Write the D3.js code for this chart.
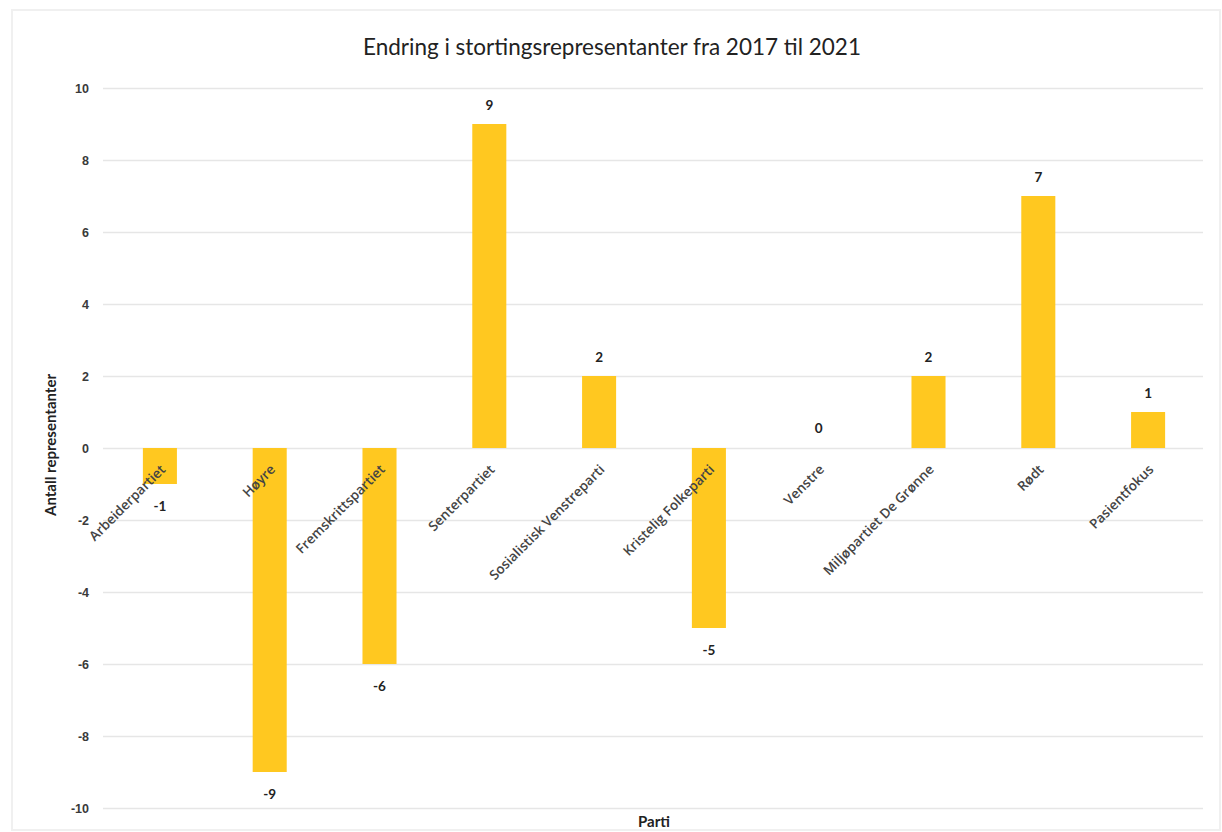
<!DOCTYPE html>
<html>
<head>
<meta charset="utf-8">
<script src="https://cdn.jsdelivr.net/npm/d3@7"></script>
<style>
  html, body { margin: 0; padding: 0; background: #fff; }
  svg { display: block; font-family: Lato, "Open Sans", "DejaVu Sans", sans-serif; }
</style>
</head>
<body>
<svg id="chart" width="1222" height="832"></svg>
<script>
const title = "Endring i stortingsrepresentanter fra 2017 til 2021";
const yTitle = "Antall representanter";
const xTitle = "Parti";
const categories = ["Arbeiderpartiet", "Høyre", "Fremskrittspartiet", "Senterpartiet",
  "Sosialistisk Venstreparti", "Kristelig Folkeparti", "Venstre",
  "Miljøpartiet De Grønne", "Rødt", "Pasientfokus"];
const values = [-1, -9, -6, 9, 2, -5, 0, 2, 7, 1];
const yTicks = [10, 8, 6, 4, 2, 0, -2, -4, -6, -8, -10];

const svg = d3.select("#chart");
const W = 1222, H = 832;
const plot = { left: 105, right: 1203, top: 88, bottom: 808 };

// faint chart border (scan)
svg.append("rect").attr("x", 12).attr("y", 10).attr("width", W - 14).attr("height", H - 12)
  .attr("fill", "none").attr("stroke", "#f0f0f0").attr("stroke-width", 2);

const x = d3.scaleBand().domain(categories).range([plot.left, plot.right])
  .paddingInner(0.69).paddingOuter(0.345);
const y = d3.scaleLinear().domain([-10, 10]).range([plot.bottom, plot.top]);

// gridlines + tick labels
const yAxis = d3.axisLeft(y).tickValues(yTicks).tickSize(-(plot.right - plot.left + 2)).tickPadding(14)
  .tickFormat(d3.format("d"));
const gy = svg.append("g").attr("transform", `translate(${plot.left - 2},0)`).call(yAxis);
gy.select(".domain").remove();
gy.selectAll(".tick line").attr("stroke", "#e6e6e6").attr("stroke-width", 1.3);
gy.selectAll(".tick text").attr("fill", "#3a3a3a").attr("font-size", 12.5).attr("font-weight", 700)
  .text(d => d < 0 ? "-" + Math.abs(d) : d);

// bars
svg.append("g").selectAll("rect").data(values).join("rect")
  .attr("x", (d, i) => x(categories[i]))
  .attr("width", x.bandwidth())
  .attr("y", d => y(Math.max(0, d)))
  .attr("height", d => Math.abs(y(d) - y(0)))
  .attr("fill", "#FFC820");

// value labels
svg.append("g").selectAll("text").data(values).join("text")
  .attr("x", (d, i) => x(categories[i]) + x.bandwidth() / 2)
  .attr("y", d => d > 0 ? y(d) - 19 : d < 0 ? y(d) + 22 : y(0) - 20)
  .attr("dy", "0.35em")
  .attr("text-anchor", "middle")
  .attr("font-size", 13.5).attr("font-weight", 700).attr("fill", "#222")
  .text(d => d < 0 ? "-" + Math.abs(d) : d);

// category labels
svg.append("g").selectAll("text").data(categories).join("text")
  .attr("transform", d => `translate(${x(d) + x.bandwidth() / 2 + 3},${y(0) + 19}) rotate(-45)`)
  .attr("dy", "0.35em")
  .attr("text-anchor", "end")
  .attr("font-family", "'Open Sans', sans-serif")
  .attr("font-size", 13.5).attr("font-weight", 600).attr("fill", "#444")
  .text(d => d);

// titles
svg.append("text").attr("x", 612).attr("y", 55).attr("text-anchor", "middle")
  .attr("font-size", 22.5).attr("fill", "#222").text(title);
svg.append("text").attr("transform", `translate(56,${(plot.top + plot.bottom) / 2 - 3}) rotate(-90)`)
  .attr("text-anchor", "middle").attr("font-size", 15).attr("font-weight", 700).attr("fill", "#222")
  .text(yTitle);
svg.append("text").attr("x", 654).attr("y", 827).attr("text-anchor", "middle")
  .attr("font-size", 15).attr("font-weight", 700).attr("fill", "#222").text(xTitle);
</script>
</body>
</html>
